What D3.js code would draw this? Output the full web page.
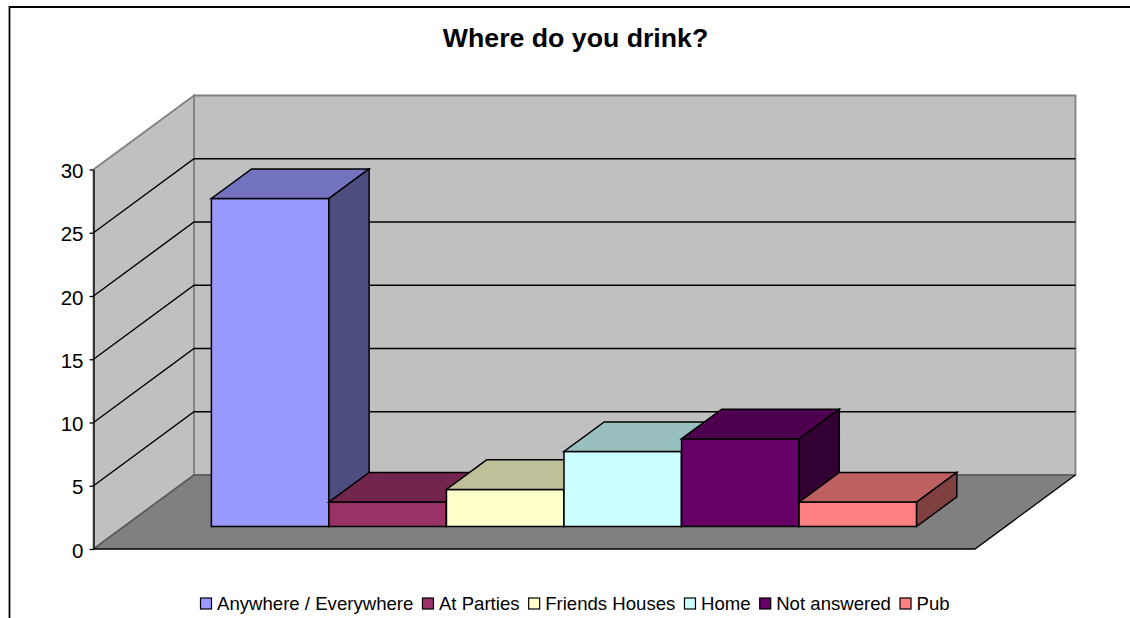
<!DOCTYPE html>
<html><head><meta charset="utf-8">
<script src="https://cdn.jsdelivr.net/npm/d3@7"></script>
<style>html,body{margin:0;padding:0;background:#fff}svg{display:block}text{font-family:"Liberation Sans",Arial,sans-serif;fill:#000}</style>
</head><body><svg id="c" width="1130" height="618"></svg>
<script>
const categories = ["Anywhere / Everywhere","At Parties","Friends Houses","Home","Not answered","Pub"];
const values = [26,2,3,6,7,2];
const colors = ["#9999FF","#993366","#FFFFCC","#CCFFFF","#660066","#FF8080"];
const yTicks = [0,5,10,15,20,25,30];
const title = "Where do you drink?";

const W=1130,H=618;
const svg=d3.select("#c");
const ox=93.5, oy=549, fx=975, topY=169.5;
const dx=100.5, dy=-74;
const y=d3.scaleLinear().domain([0,30]).range([oy,topY]);
const gapF=0.304, depthF=0.4;
const x=d3.scaleBand().domain(categories).range([ox+dx*gapF-0.8, fx+dx*gapF-0.8]).paddingInner(0).paddingOuter(0.75);
const line=d3.line();
const poly=(pts,fill,stroke,sw)=>svg.append("path").attr("d",line(pts)+"Z").attr("fill",fill).attr("stroke",stroke||"none").attr("stroke-width",sw||0).attr("stroke-linejoin","miter");

// chart frame (open on the right and at the bottom: the picture is cropped there)
svg.append("path").attr("d",`M9.5,618V7H1130`).attr("fill","none").attr("stroke","#000").attr("stroke-width",1.8);
svg.append("text").attr("x",575.5).attr("y",47).attr("text-anchor","middle").attr("font-size",26.7).attr("font-weight","bold").text(title);

// walls and floor
poly([[ox+dx,oy+dy],[fx+dx,oy+dy],[fx+dx,topY+dy],[ox+dx,topY+dy]],"#C0C0C0","#808080",1.8);
poly([[ox,oy],[ox+dx,oy+dy],[ox+dx,topY+dy],[ox,topY]],"#C0C0C0","#808080",1.8);
poly([[ox,oy],[fx,oy],[fx+dx,oy+dy],[ox+dx,oy+dy]],"#808080");
svg.append("path").attr("d",line([[ox,oy],[ox+dx,oy+dy],[fx+dx,oy+dy]])).attr("fill","none").attr("stroke","#5a5a5a").attr("stroke-width",1.6);
svg.append("path").attr("d",line([[ox,oy],[fx,oy],[fx+dx,oy+dy]])).attr("fill","none").attr("stroke","#000").attr("stroke-width",1.3);

// gridlines
yTicks.filter(t=>t>0&&t<30).forEach(t=>{
  const py=y(t);
  svg.append("path").attr("d",line([[ox,py],[ox+dx,py+dy],[fx+dx,py+dy]])).attr("fill","none").attr("stroke","#000").attr("stroke-width",1.4);
});

// axis
const axis=d3.axisLeft(y).tickValues(yTicks).tickSize(4).tickPadding(6).tickSizeOuter(0);
const ga=svg.append("g").attr("transform",`translate(${ox},0)`).call(axis);
ga.selectAll("path,line").attr("stroke","#000").attr("stroke-width",1.3);
ga.selectAll("text").attr("font-size",20.5).attr("font-family",'"Liberation Sans",Arial,sans-serif').attr("dy","0.4em");

// bars
const ddx=dx*depthF, ddy=dy*depthF;
const base=oy+dy*gapF;
const shade=(c,k)=>{const r=d3.rgb(c);return d3.rgb(r.r*k,r.g*k,r.b*k).formatHex();};
categories.forEach((c,i)=>{
  const x0=x(c), x1=x0+x.bandwidth();
  const top=base-(oy-y(values[i]))+0.9;
  poly([[x0,base],[x1,base],[x1,top],[x0,top]],colors[i],"#000",1.5);
  poly([[x0,top],[x1,top],[x1+ddx,top+ddy],[x0+ddx,top+ddy]],shade(colors[i],0.75),"#000",1.5);
  poly([[x1,base],[x1+ddx,base+ddy],[x1+ddx,top+ddy],[x1,top]],shade(colors[i],0.5),"#000",1.5);
});

// legend
let lx=200.5; const ly=598;
categories.forEach((c,i)=>{
  svg.append("rect").attr("x",lx).attr("y",ly).attr("width",11).attr("height",11).attr("fill",colors[i]).attr("stroke","#000").attr("stroke-width",1.2);
  const t=svg.append("text").attr("x",lx+16.5).attr("y",ly+12).attr("font-size",18.6).text(c);
  lx+=16.5+t.node().getComputedTextLength()+9.1;
});
</script></body></html>
